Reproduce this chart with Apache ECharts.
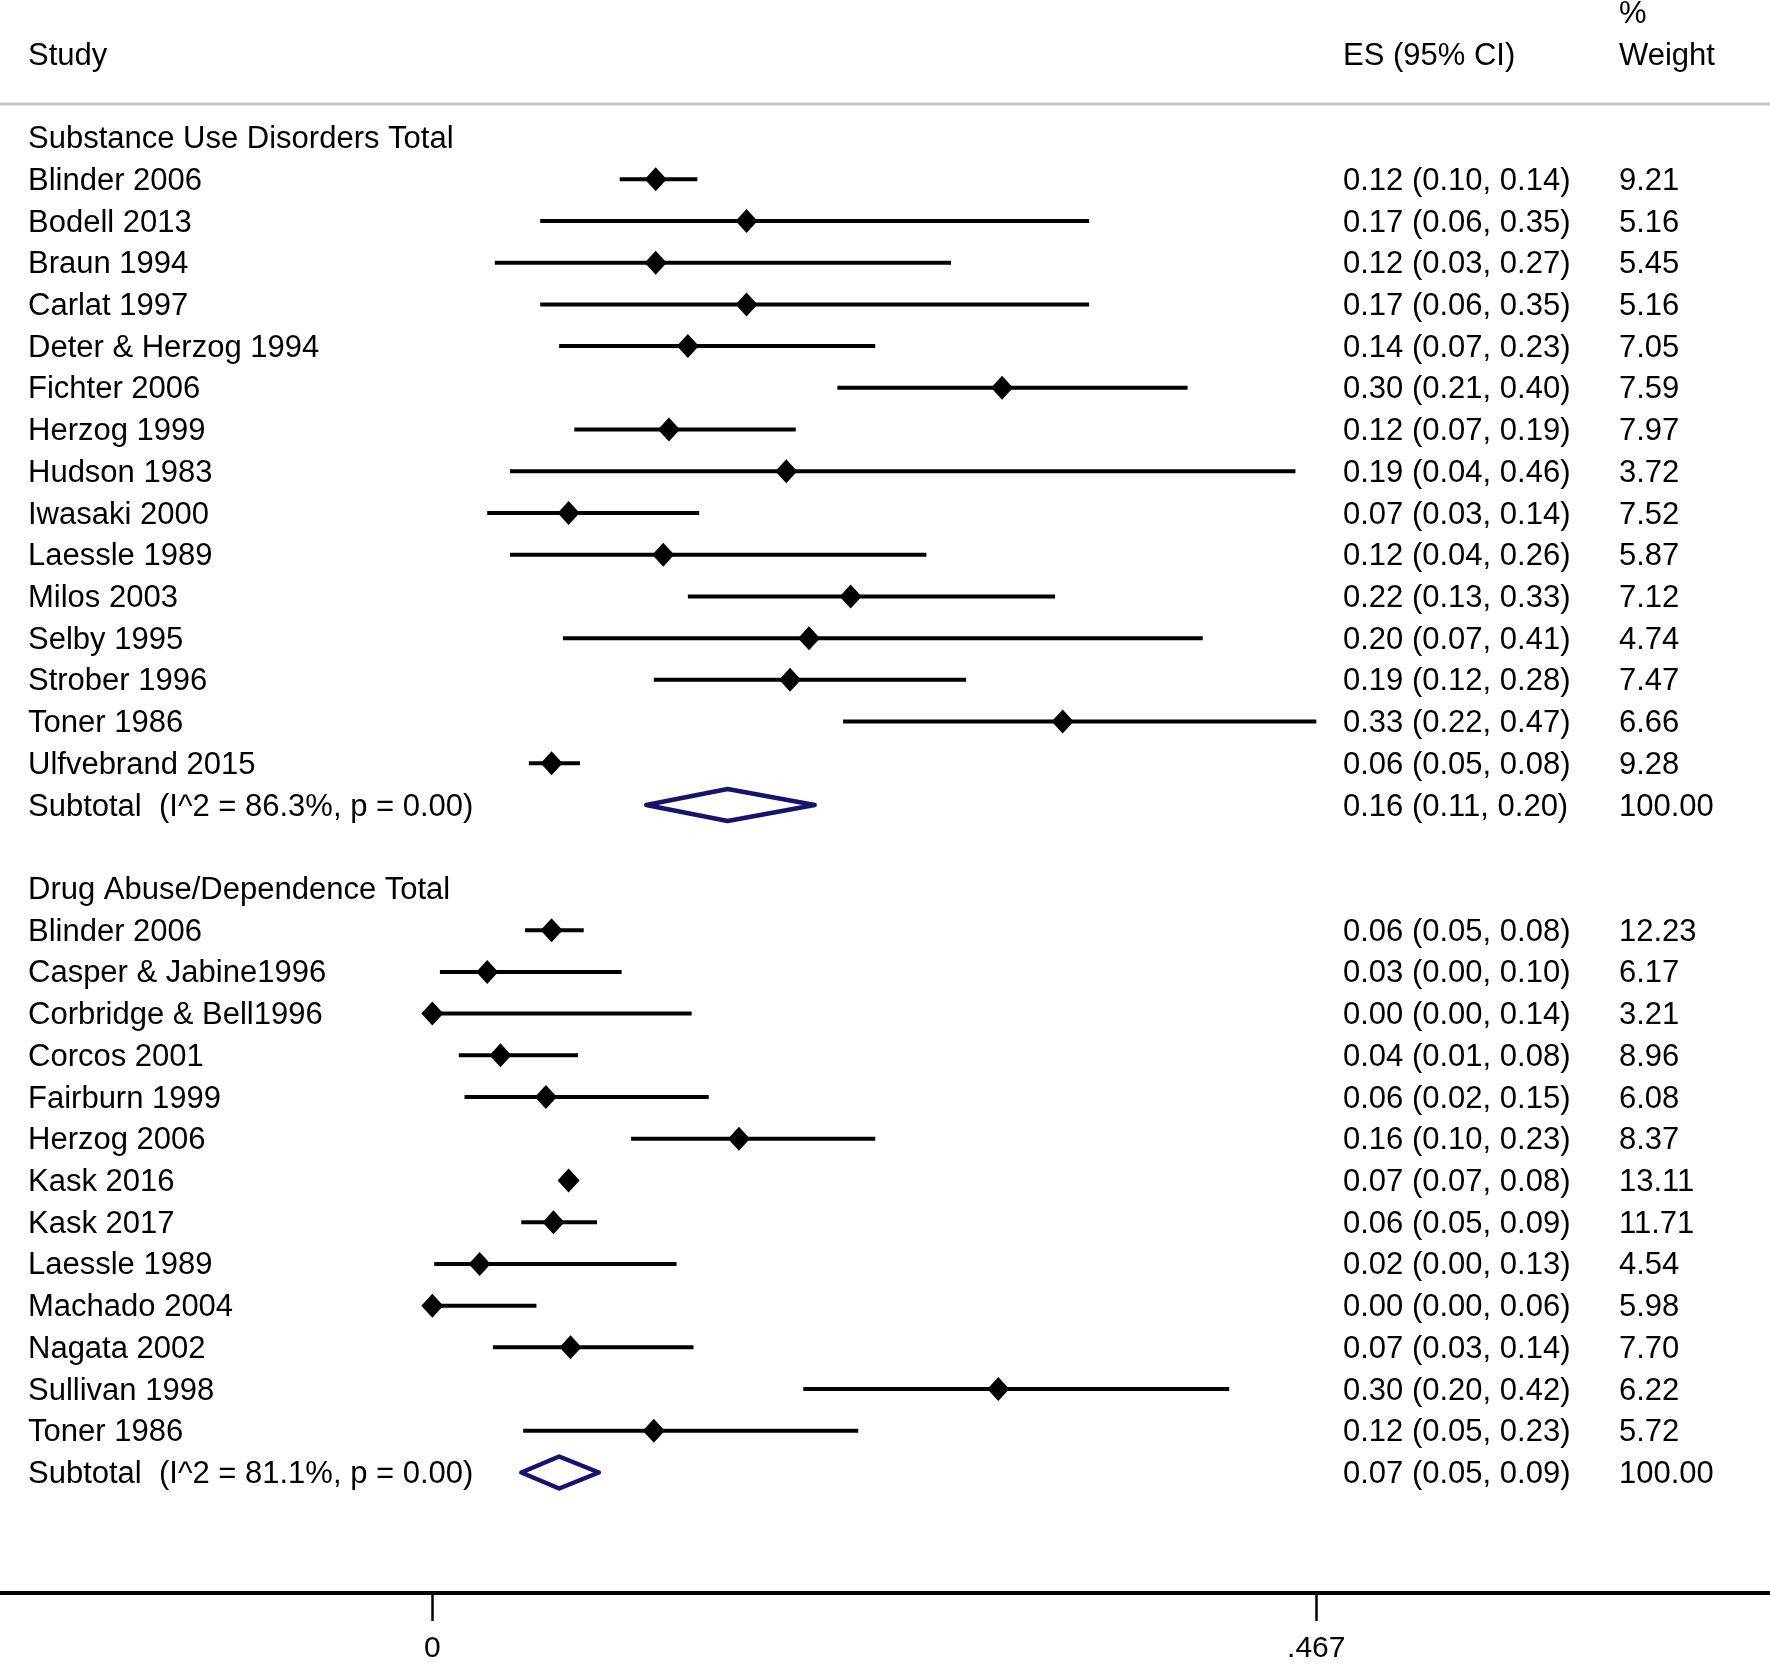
<!DOCTYPE html>
<html><head><meta charset="utf-8">
<script src="https://cdn.jsdelivr.net/npm/echarts@6/dist/echarts.min.js"></script>
<style>html,body{margin:0;padding:0;background:#fff}#c{width:1770px;height:1664px}</style>
</head><body><div id="c"></div><script>
// ---------- data ----------
const groupTitles = ['Substance Use Disorders Total', 'Drug Abuse/Dependence Total'];

const g1Studies = ['Blinder 2006','Bodell 2013','Braun 1994','Carlat 1997','Deter & Herzog 1994','Fichter 2006','Herzog 1999','Hudson 1983','Iwasaki 2000','Laessle 1989','Milos 2003','Selby 1995','Strober 1996','Toner 1986','Ulfvebrand 2015'];
const g1ES = [0.118,0.166,0.118,0.166,0.135,0.301,0.125,0.187,0.072,0.122,0.221,0.199,0.189,0.333,0.063];
const g1Lo = [0.099,0.057,0.033,0.057,0.067,0.214,0.075,0.041,0.029,0.041,0.135,0.069,0.117,0.217,0.051];
const g1Hi = [0.140,0.347,0.274,0.347,0.234,0.399,0.192,0.456,0.141,0.261,0.329,0.407,0.282,0.467,0.078];
const g1Text = ['0.12 (0.10, 0.14)','0.17 (0.06, 0.35)','0.12 (0.03, 0.27)','0.17 (0.06, 0.35)','0.14 (0.07, 0.23)','0.30 (0.21, 0.40)','0.12 (0.07, 0.19)','0.19 (0.04, 0.46)','0.07 (0.03, 0.14)','0.12 (0.04, 0.26)','0.22 (0.13, 0.33)','0.20 (0.07, 0.41)','0.19 (0.12, 0.28)','0.33 (0.22, 0.47)','0.06 (0.05, 0.08)'];
const g1Weight = ['9.21','5.16','5.45','5.16','7.05','7.59','7.97','3.72','7.52','5.87','7.12','4.74','7.47','6.66','9.28'];

const g2Studies = ['Blinder 2006','Casper & Jabine1996','Corbridge & Bell1996','Corcos 2001','Fairburn 1999','Herzog 2006','Kask 2016','Kask 2017','Laessle 1989','Machado 2004','Nagata 2002','Sullivan 1998','Toner 1986'];
const g2ES = [0.063,0.029,0.000,0.036,0.060,0.162,0.072,0.064,0.025,0.000,0.073,0.299,0.117];
const g2Lo = [0.049,0.004,0.000,0.014,0.017,0.105,0.068,0.047,0.001,0.000,0.032,0.196,0.048];
const g2Hi = [0.080,0.100,0.137,0.077,0.146,0.234,0.076,0.087,0.129,0.055,0.138,0.421,0.225];
const g2Text = ['0.06 (0.05, 0.08)','0.03 (0.00, 0.10)','0.00 (0.00, 0.14)','0.04 (0.01, 0.08)','0.06 (0.02, 0.15)','0.16 (0.10, 0.23)','0.07 (0.07, 0.08)','0.06 (0.05, 0.09)','0.02 (0.00, 0.13)','0.00 (0.00, 0.06)','0.07 (0.03, 0.14)','0.30 (0.20, 0.42)','0.12 (0.05, 0.23)'];
const g2Weight = ['12.23','6.17','3.21','8.96','6.08','8.37','13.11','11.71','4.54','5.98','7.70','6.22','5.72'];

const subtotalLabels = ['Subtotal  (I^2 = 86.3%, p = 0.00)', 'Subtotal  (I^2 = 81.1%, p = 0.00)'];
const subtotalES = [0.156, 0.067];
const subtotalLo = [0.113, 0.047];
const subtotalHi = [0.202, 0.088];
const subtotalText = ['0.16 (0.11, 0.20)', '0.07 (0.05, 0.09)'];
const subtotalWeight = ['100.00', '100.00'];

const headerStudy = 'Study';
const headerES = 'ES (95% CI)';
const headerWeight = ['%', 'Weight'];
const xTickValues = [0, 0.467];
const xTickLabels = ['0', '.467'];

// ---------- layout (rows) ----------
const FONT = '"Liberation Sans", Arial, Helvetica, sans-serif';
const FS = 31;
const X_STUDY = 28, X_ES = 1343, X_W = 1619;
const TEXT_DY = 2;

const studyRows = [], textRows = [], subRows = [];
let row = 0;
const groups = [
  {studies: g1Studies, es: g1ES, lo: g1Lo, hi: g1Hi, text: g1Text, w: g1Weight},
  {studies: g2Studies, es: g2ES, lo: g2Lo, hi: g2Hi, text: g2Text, w: g2Weight}
];
groups.forEach((g, gi) => {
  textRows.push({value: [0, row], name: groupTitles[gi], col: 'study'});
  row++;
  g.studies.forEach((s, i) => {
    studyRows.push([g.es[i], g.lo[i], g.hi[i], row]);
    textRows.push({value: [0, row], name: s, col: 'study'});
    textRows.push({value: [0, row], name: g.text[i], col: 'es'});
    textRows.push({value: [0, row], name: g.w[i], col: 'w'});
    row++;
  });
  subRows.push([subtotalES[gi], subtotalLo[gi], subtotalHi[gi], row]);
  textRows.push({value: [0, row], name: subtotalLabels[gi], col: 'study'});
  textRows.push({value: [0, row], name: subtotalText[gi], col: 'es'});
  textRows.push({value: [0, row], name: subtotalWeight[gi], col: 'w'});
  row += 2;
});
textRows.push({value: [0, -2], name: headerStudy, col: 'study'});
textRows.push({value: [0, -2], name: headerES, col: 'es'});
textRows.push({value: [0, -3], name: headerWeight[0], col: 'w'});
textRows.push({value: [0, -2], name: headerWeight[1], col: 'w'});

const chart = echarts.init(document.getElementById('c'), null, {renderer: 'canvas'});
chart.setOption({
  animation: false,
  backgroundColor: '#fff',
  grid: {left: 0, right: 0, top: 0, height: 1595},
  xAxis: {
    type: 'value', min: -0.2284, max: 0.7067, position: 'bottom',
    splitLine: {show: false},
    axisLine: {show: true, onZero: false, lineStyle: {color: '#000', width: 4}},
    axisTick: {show: true, customValues: xTickValues, length: 28, lineStyle: {color: '#000', width: 2.5}},
    axisLabel: {
      show: true, customValues: xTickValues, margin: 41,
      fontSize: 30, fontFamily: FONT, color: '#000',
      formatter: v => xTickLabels[xTickValues.indexOf(v)] ?? ''
    }
  },
  yAxis: {
    type: 'value', inverse: true, min: -3.2966, max: 34.888,
    show: false, splitLine: {show: false}
  },
  graphic: [{
    type: 'rect', shape: {x: 0, y: 102.5, width: 1770, height: 3},
    style: {fill: '#c6c6c6'}, silent: true
  }],
  series: [
    {
      type: 'custom', name: 'studies', clip: false,
      data: studyRows,
      renderItem: (params, api) => {
        const y = api.coord([0, api.value(3)])[1];
        const xe = api.coord([api.value(0), 0])[0];
        const xl = api.coord([api.value(1), 0])[0];
        const xh = api.coord([api.value(2), 0])[0];
        return {type: 'group', children: [
          {type: 'line', shape: {x1: xl, y1: y, x2: xh, y2: y}, style: {stroke: '#000', lineWidth: 4}},
          {type: 'polygon', shape: {points: [[xe - 11, y], [xe, y - 12], [xe + 11, y], [xe, y + 12]]}, style: {fill: '#000'}}
        ]};
      }
    },
    {
      type: 'custom', name: 'subtotals', clip: false,
      data: subRows,
      renderItem: (params, api) => {
        const y = api.coord([0, api.value(3)])[1];
        const xe = api.coord([api.value(0), 0])[0];
        const xl = api.coord([api.value(1), 0])[0];
        const xh = api.coord([api.value(2), 0])[0];
        return {type: 'polygon', shape: {points: [[xl, y], [xe, y - 16], [xh, y], [xe, y + 16]]},
          style: {fill: '#fff', stroke: '#14146e', lineWidth: 4.5, lineJoin: 'round'}};
      }
    },
    {
      type: 'custom', name: 'text', clip: false,
      data: textRows,
      renderItem: (params, api) => {
        const item = textRows[params.dataIndex];
        const y = api.coord([0, api.value(1)])[1] + TEXT_DY;
        const x = item.col === 'study' ? X_STUDY : (item.col === 'es' ? X_ES : X_W);
        return {type: 'text', style: {text: item.name, x: x, y: y, fill: '#000',
          font: FS + 'px ' + FONT, align: 'left', verticalAlign: 'middle'}};
      }
    }
  ]
});
</script></body></html>
